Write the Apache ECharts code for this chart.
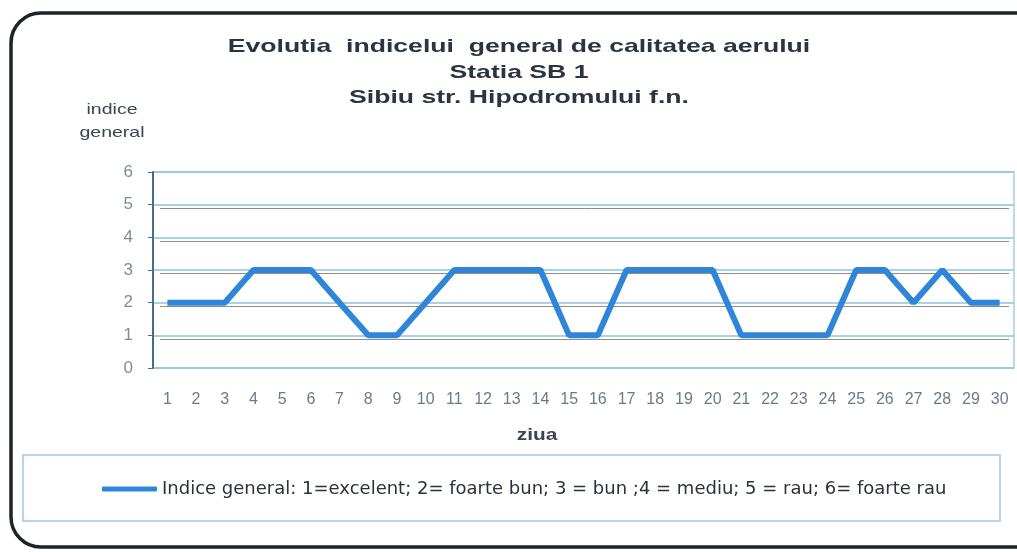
<!DOCTYPE html>
<html>
<head>
<meta charset="utf-8">
<script src="https://cdn.jsdelivr.net/npm/echarts@6/dist/echarts.min.js"></script>
<style>html,body{margin:0;padding:0;background:#fff}#c{width:1017px;height:552px}</style>
</head>
<body>
<div id="c"></div>
<script>
const days = ['1','2','3','4','5','6','7','8','9','10','11','12','13','14','15','16','17','18','19','20','21','22','23','24','25','26','27','28','29','30'];
const indiceGeneral = [2,2,2,3,3,3,2,1,1,2,3,3,3,3,1,1,3,3,3,3,1,1,1,1,3,3,2,3,2,2];
const yTicks = [0,1,2,3,4,5,6];
const titleLines = ['Evolutia  indicelui  general de calitatea aerului','Statia SB 1','Sibiu str. Hipodromului f.n.'];
const yAxisName = ['indice','general'];
const xAxisName = 'ziua';
const seriesName = 'Indice general: 1=excelent; 2= foarte bun; 3 = bun ;4 = mediu; 5 = rau; 6= foarte rau';

const chart = echarts.init(document.getElementById('c'));
const FONT = '"Liberation Sans", Arial, sans-serif';
const SX = 1.4;
const titleGraphics = titleLines.map((t, i) => ({
  type: 'text', x: 519, y: 47 + i * 25.5, scaleX: SX, silent: true,
  style: {text: t, fontFamily: FONT, fontWeight: 'bold', fontSize: 19, fill: '#2b3440', align: 'center', verticalAlign: 'middle'}
}));
const yNameGraphics = yAxisName.map((t, i) => ({
  type: 'text', x: 112, y: 110 + i * 23, scaleX: 1.3, silent: true,
  style: {text: t, fontFamily: FONT, fontSize: 15, fill: '#3a4550', align: 'center', verticalAlign: 'middle'}
}));
chart.setOption({
  backgroundColor: '#fff',
  animation: false,
  graphic: [
    {type: 'rect', shape: {x: 11, y: 13, width: 1040, height: 534, r: 30}, style: {fill: 'none', stroke: '#1e2326', lineWidth: 3.5}, silent: true},
    {type: 'rect', shape: {x: 23, y: 455, width: 977, height: 66}, style: {fill: 'none', stroke: '#9cc8e6', lineWidth: 1.5}, silent: true},
    ...titleGraphics,
    ...yNameGraphics,
    {type: 'text', x: 537, y: 436, scaleX: 1.3, silent: true, style: {text: xAxisName, fontFamily: FONT, fontSize: 16, fontWeight: 'bold', fill: '#3a4550', align: 'center', verticalAlign: 'middle'}}
  ],
  legend: {
    left: 97, top: 475,
    icon: 'roundRect', itemWidth: 55, itemHeight: 5, itemGap: 10,
    textStyle: {fontFamily: '"DejaVu Sans", sans-serif', fontSize: 18, color: '#2a323b'},
    data: [seriesName]
  },
  grid: [
    {left: 153, right: 3, top: 172, bottom: 184, show: true, borderColor: '#a6d0ec', borderWidth: 1.5},
    {left: 160, right: 8, top: 208.2, bottom: 213.2, show: false}
  ],
  xAxis: [{
    type: 'category', data: days, boundaryGap: true, gridIndex: 0,
    axisLine: {show: false}, axisTick: {show: false},
    axisLabel: {fontFamily: FONT, fontSize: 16, color: '#6c7a88', margin: 24}
  }, {
    type: 'category', data: days, gridIndex: 1, show: false
  }],
  yAxis: [{
    type: 'value', min: 0, max: 6, interval: 1, gridIndex: 0, z: 3,
    axisLine: {show: true, lineStyle: {color: '#4a6a86', width: 2}},
    axisTick: {show: true, length: 5, lineStyle: {color: '#4a6a86'}},
    axisLabel: {fontFamily: FONT, fontSize: 17, color: '#7d8c9a', margin: 20},
    splitLine: {show: true, lineStyle: {color: '#8fc2e2', width: 1.5}}
  }, {
    type: 'value', min: 1, max: 5, interval: 1, gridIndex: 1, z: 1,
    axisLine: {show: false}, axisTick: {show: false}, axisLabel: {show: false},
    splitLine: {show: true, lineStyle: {color: '#8c8c8c', width: 1}}
  }],
  series: [{
    name: seriesName, type: 'line', data: indiceGeneral, xAxisIndex: 0, yAxisIndex: 0, z: 5,
    symbol: 'none', lineStyle: {color: '#2f86d8', width: 6}, itemStyle: {color: '#2f86d8'}
  }]
});
</script>
</body>
</html>
